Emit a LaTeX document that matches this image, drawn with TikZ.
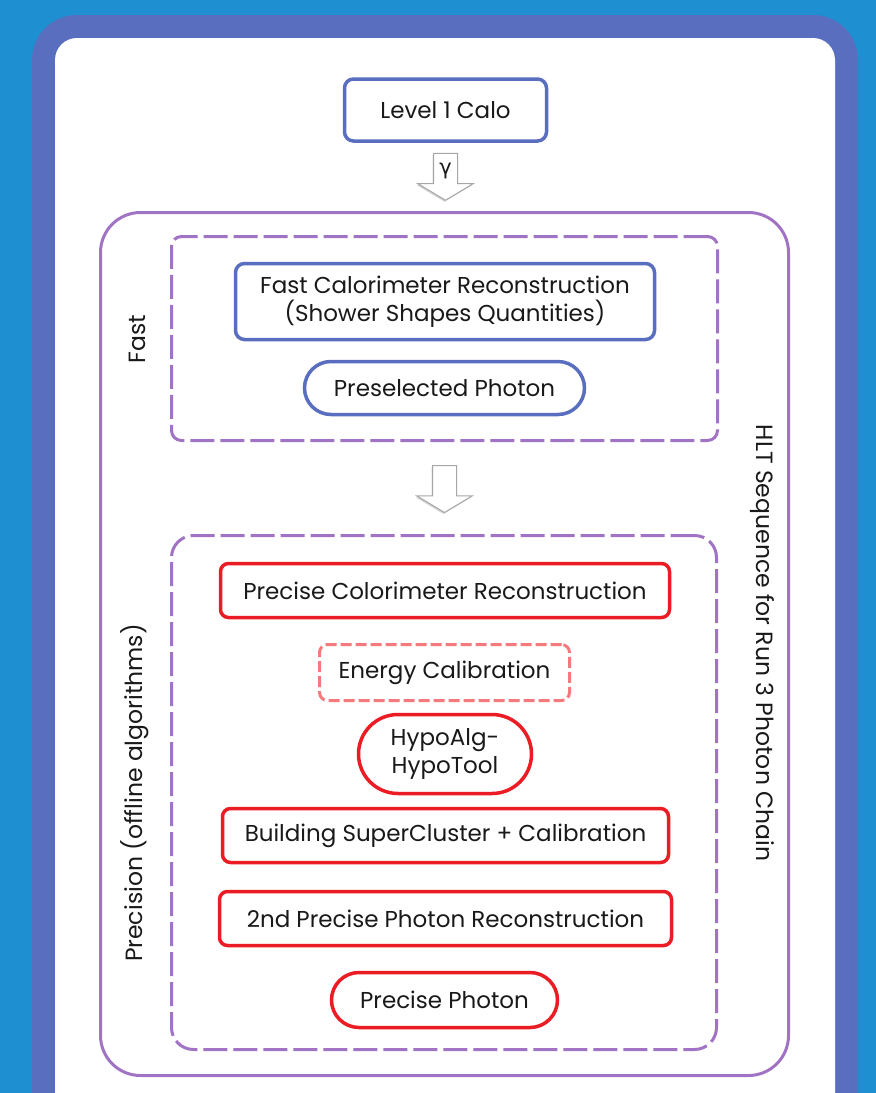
\documentclass[tikz,border=0pt]{standalone}
\usepackage{fontspec}
\setmainfont{Poppins}
\newfontfamily\greekfont{DejaVu Sans}
\usepackage{tikz}
\usetikzlibrary{shapes.misc,shapes.arrows,shadows,calc}

\definecolor{skyblue}{HTML}{1E8FD0}
\definecolor{frameblue}{HTML}{5A6EC0}
\definecolor{hltpurple}{HTML}{A173C4}
\definecolor{precred}{HTML}{EC1C24}
\definecolor{calibpink}{HTML}{F47A7E}

\begin{document}
\begin{tikzpicture}[x=1pt, y=-1pt,
  every node/.style = {font=\fontsize{23}{28}\selectfont, align=center,
    text=black!90, inner sep=0pt},
  bluebox/.style = {draw=frameblue, line width=3.5pt, rounded corners=9pt, fill=white},
  bluepill/.style = {rounded rectangle, draw=frameblue, line width=3.5pt, fill=white},
  redbox/.style = {draw=precred, line width=3.5pt, rounded corners=8pt, fill=white},
  redpill/.style = {rounded rectangle, draw=precred, line width=3.5pt, fill=white},
  calibbox/.style = {draw=calibpink, line width=3pt, rounded corners=8pt,
    dash pattern=on 11pt off 4pt, fill=white},
  stagebox/.style = {draw=hltpurple, line width=3pt, dash pattern=on 24pt off 6pt},
  hltbox/.style = {draw=hltpurple, line width=3pt, rounded corners=40pt},
  sidelabel/.style = {font=\fontsize{23.5}{28}\selectfont},
  hollowarrow/.style = {single arrow, draw=gray!70, fill=white, line width=1pt,
    rotate=-90, minimum height=47pt, minimum width=54pt,
    inner xsep=0pt, inner ysep=11.5pt,
    single arrow head extend=15.5pt, single arrow tip angle=118,
    drop shadow={shadow xshift=-1pt, shadow yshift=-1.5pt, opacity=0.35}}]

  % page and frame
  \useasboundingbox (0,0) rectangle (876,1093);
  \fill[skyblue] (0,0) rectangle (876,1093);
  \clip (0,0) rectangle (876,1093);
  \fill[frameblue, rounded corners=45pt] (32,15) rectangle (858,1160);
  \fill[white, rounded corners=22pt] (55,38) rectangle (835,1160);

  % level 1
  \node[bluebox, minimum width=202pt, minimum height=62pt] (l1) at (445.5,110) {Level 1 Calo};

  % hlt sequence
  \node[hltbox, minimum width=688pt, minimum height=863pt] (hlt) at (444.5,644) {};
  \node[sidelabel, rotate=-90] (hltlbl) at (762,643) {HLT Sequence for Run 3 Photon Chain};

  \node[hollowarrow, anchor=tail] (arr1) at ($(l1.south)+(0,10)$) {};
  \path (arr1.tail) -- (arr1.tip) node[pos=0.38] (gam) {\fontsize{21}{21}\selectfont\greekfont γ};

  % fast step
  \node[stagebox, rounded corners=10pt, minimum width=546pt, minimum height=204pt] (fast) at (444.5,338.5) {};
  \node[sidelabel, rotate=90] (fastlbl) at (137,339) {Fast};
  \node[bluebox, minimum width=419pt, minimum height=76pt] (fcr) at (445,301.5)
    {Fast Calorimeter Reconstruction\\(Shower Shapes Quantities)};
  \node[bluepill, minimum width=280pt, minimum height=53pt] (presel) at (444.5,388) {Preselected Photon};

  \node[hollowarrow, anchor=tail] (arr2) at ($(fast.south)+(0,23)$) {};

  % precision step
  \node[stagebox, rounded corners=22pt, minimum width=545pt, minimum height=514pt] (prec) at (444,792.5) {};
  \node[sidelabel, rotate=90] (preclbl) at (135,793) {Precision (offline algorithms)};
  \node[redbox, minimum width=449pt, minimum height=54pt] (pcr) at (445,590.5) {Precise Colorimeter Reconstruction};
  \node[calibbox, minimum width=250pt, minimum height=56pt] (ecal) at (444.5,672.5) {Energy Calibration};
  \node[redpill, minimum width=173pt, minimum height=79pt] (hypo) at (445,754) {HypoAlg-\\HypoTool};
  \node[redbox, minimum width=446pt, minimum height=54pt] (build) at (445.5,835.5) {Building SuperCluster + Calibration};
  \node[redbox, minimum width=452pt, minimum height=54pt] (second) at (445.5,918.5) {2nd Precise Photon Reconstruction};
  \node[redpill, minimum width=226pt, minimum height=55pt] (pp) at (444.5,1000) {Precise Photon};
\end{tikzpicture}
\end{document}
